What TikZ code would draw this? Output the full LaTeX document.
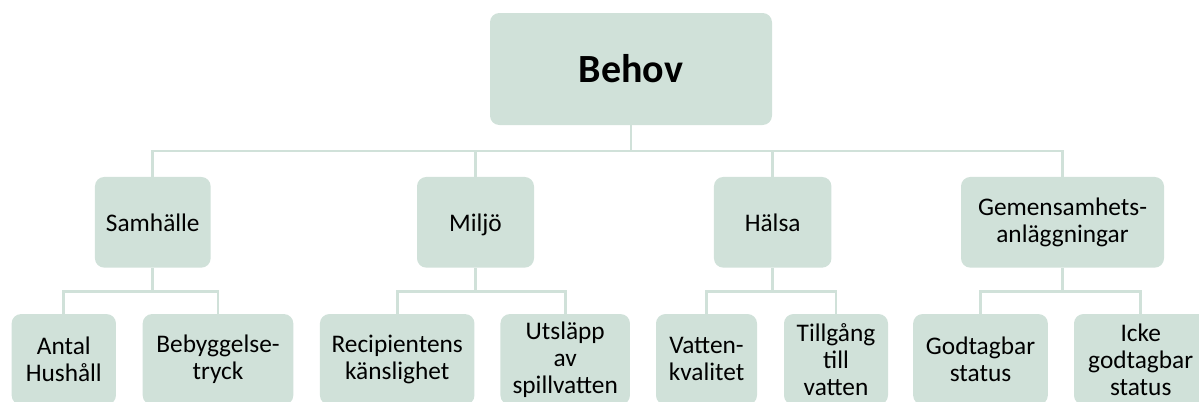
\documentclass[tikz,border=0pt]{standalone}
\usepackage{fontspec}
\setmainfont{Carlito}
\usepackage{tikz}
\usetikzlibrary{positioning}
\definecolor{boxfill}{HTML}{D0E1D9}
\definecolor{linkcol}{HTML}{D0E1D9}

\begin{document}
\begin{tikzpicture}[
    x=0.75pt, y=-0.75pt,
    card/.style={fill=boxfill, rounded corners=7pt, inner sep=0pt, align=center, text=black, minimum width=#1*0.75pt, minimum height=68pt, font=\fontsize{19}{20.25}\selectfont},
    link/.style={draw=linkcol, line width=2.2pt},
]
    \useasboundingbox (0, 0) rectangle (1199, 401);

    % Top
    \node[card=282, minimum height=84pt, font=\fontsize{30}{34}\selectfont\bfseries] (behov) at (631, 69) {Behov};

    % First level
    \node[card=115.7] (samh) at (152.8, 222.3) {Samhälle};
    \node[card=117, text depth=0pt] (milj) at (475.5, 222.3) {Miljö};
    \node[card=117.5] (hals) at (772.7, 222.3) {Hälsa};
    \node[card=203] (gem) at (1062.5, 222.3) {Gemensamhets-\\anläggningar};

    % Second level
    \node[card=104.3] (antal) at (63.8, 359.4) {Antal\\Hushåll};
    \node[card=150.6] (bebyg) at (218, 359.4) {Bebyggelse-\\tryck};
    \node[card=154.5] (recip) at (397.2, 359.4) {Recipientens\\känslighet};
    \node[card=129.5] (utsl) at (565.2, 359.4) {Utsläpp\\av\\spillvatten};
    \node[card=101] (vattk) at (706.5, 359.4) {Vatten-\\kvalitet};
    \node[card=104] (tillg) at (836, 359.4) {Tillgång\\till\\vatten};
    \node[card=134.7] (godt) at (980.5, 359.4) {Godtagbar\\status};
    \node[card=133.4] (icke) at (1140.7, 359.4) {Icke\\godtagbar\\status};

    % Connections from top
    \draw[link] (behov.south) -- ++(0, 25.7) -| (samh.north);
    \draw[link] (behov.south) -- ++(0, 25.7) -| (milj.north);
    \draw[link] (behov.south) -- ++(0, 25.7) -| (hals.north);
    \draw[link] (behov.south) -- ++(0, 25.7) -| (gem.north);

    % Connections to second level
    \draw[link] (samh.south) -- ++(0, 24) -| (antal.north);
    \draw[link] (samh.south) -- ++(0, 24) -| (bebyg.north);
    \draw[link] (milj.south) -- ++(0, 24) -| (recip.north);
    \draw[link] (milj.south) -- ++(0, 24) -| (utsl.north);
    \draw[link] (hals.south) -- ++(0, 24) -| (vattk.north);
    \draw[link] (hals.south) -- ++(0, 24) -| (tillg.north);
    \draw[link] (gem.south) -- ++(0, 24) -| (godt.north);
    \draw[link] (gem.south) -- ++(0, 24) -| (icke.north);
\end{tikzpicture}
\end{document}
